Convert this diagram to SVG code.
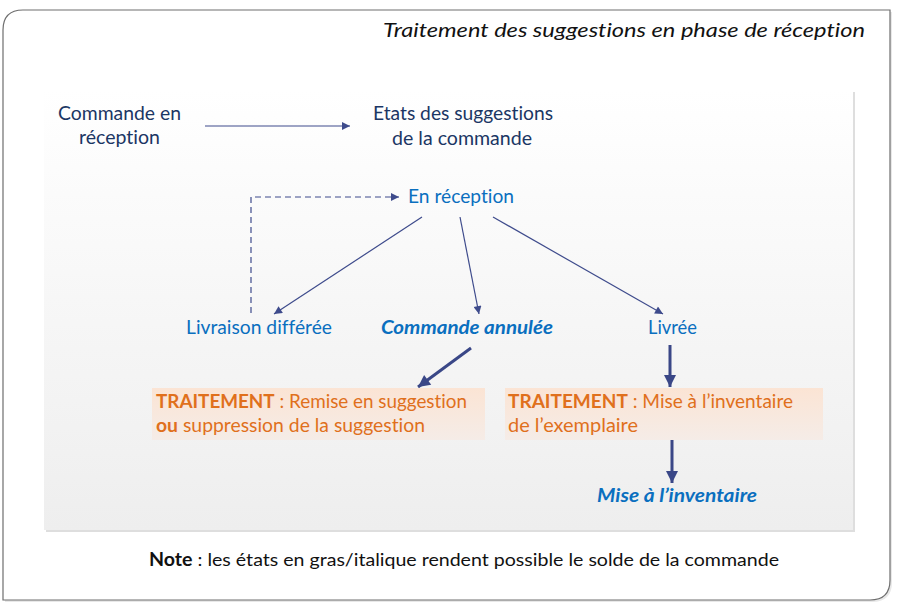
<svg xmlns="http://www.w3.org/2000/svg" width="900" height="608" viewBox="0 0 900 608">
<defs>
<linearGradient id="panelGrad" x1="0" y1="0" x2="0" y2="1">
<stop offset="0" stop-color="#ffffff"/>
<stop offset="1" stop-color="#eeeeee"/>
</linearGradient>
<linearGradient id="orangeGrad" x1="0" y1="0" x2="0" y2="1">
<stop offset="0" stop-color="#fbe4d4"/>
<stop offset="1" stop-color="#f5ece7"/>
</linearGradient>
<marker id="headThin" viewBox="0 0 10 10" refX="10" refY="5" markerWidth="10" markerHeight="8" markerUnits="userSpaceOnUse" orient="auto">
<path d="M0,0 L10,5 L0,10 Z" fill="#3e4b8c"/>
</marker>
<marker id="headThick" viewBox="0 0 10 10" refX="10" refY="5" markerWidth="13" markerHeight="12" markerUnits="userSpaceOnUse" orient="auto">
<path d="M0,0 L10,5 L0,10 Z" fill="#3a4787"/>
</marker>
<style>
text{font-family:Lato,"Liberation Sans",Arial,sans-serif;font-variant-ligatures:none;font-feature-settings:"liga" 0;}
.navy{fill:#1b3664;font-size:18.5px;}
.blue{fill:#0a6fbf;font-size:18.5px;}
.bi{fill:#0a6fbf;font-size:18px;font-weight:bold;font-style:italic;}
.orange{fill:#e0701c;font-size:18.5px;}
.b{font-weight:bold;}
.title{fill:#111111;font-size:20px;font-style:italic;}
.note{fill:#111111;font-size:18px;}
.thin{stroke:#3e4b8c;stroke-width:1.2;fill:none;marker-end:url(#headThin);}
.dash{stroke:#3e4b8c;stroke-width:1.2;fill:none;stroke-dasharray:6,4;marker-end:url(#headThin);}
.thick{stroke:#3a4787;stroke-width:3;fill:none;marker-end:url(#headThick);}
</style>
</defs>

<g id="frame">
<path d="M5,32 Q5,12 25,12 H892 V582 Q892,602 872,602 H5 Z" fill="#d8d8d8" opacity="0.6"/>
<path d="M3,30 Q3,10 23,10 H890 V580 Q890,600 870,600 H3 Z" fill="#ffffff" stroke="#6e6e6e" stroke-width="1.2"/>
<rect x="46" y="92" width="809" height="440" fill="#dedede"/>
<rect x="44" y="90" width="809" height="440" fill="url(#panelGrad)"/>
</g>

<text id="title" class="title" x="383" y="37" textLength="482" lengthAdjust="spacingAndGlyphs">Traitement des suggestions en phase de réception</text>

<g id="connectors">
<line class="thin" x1="205" y1="126" x2="350" y2="126"/>
<path class="dash" d="M251,313 V197 H399"/>
<line class="thin" x1="422" y1="217" x2="274" y2="314"/>
<line class="thin" x1="460" y1="217" x2="479" y2="314"/>
<line class="thin" x1="493" y1="217" x2="663" y2="314"/>
<line class="thick" x1="471" y1="348" x2="418" y2="387"/>
<line class="thick" x1="670" y1="345" x2="670" y2="387"/>
<line class="thick" x1="672" y1="440" x2="672" y2="483"/>
</g>

<g id="node-commande">
<text class="navy" x="58" y="120" textLength="123" lengthAdjust="spacingAndGlyphs">Commande en</text>
<text class="navy" x="79" y="144" textLength="81" lengthAdjust="spacingAndGlyphs">réception</text>
</g>

<g id="node-etats">
<text class="navy" x="373" y="120" textLength="180" lengthAdjust="spacingAndGlyphs">Etats des suggestions</text>
<text class="navy" x="392" y="145" textLength="140" lengthAdjust="spacingAndGlyphs">de la commande</text>
</g>

<g id="node-en-reception">
<text class="blue" x="408" y="203" textLength="106" lengthAdjust="spacingAndGlyphs">En réception</text>
</g>

<g id="node-livraison-differee">
<text class="blue" x="186" y="334" textLength="146" lengthAdjust="spacingAndGlyphs">Livraison différée</text>
</g>

<g id="node-commande-annulee">
<text class="bi" x="381" y="334" textLength="172" lengthAdjust="spacingAndGlyphs">Commande annulée</text>
</g>

<g id="node-livree">
<text class="blue" x="648" y="334" textLength="49" lengthAdjust="spacingAndGlyphs">Livrée</text>
</g>

<g id="node-traitement-1">
<rect x="152" y="388" width="333" height="52" fill="url(#orangeGrad)"/>
<text class="orange" x="156" y="408" textLength="311" lengthAdjust="spacingAndGlyphs"><tspan class="b">TRAITEMENT</tspan> : Remise en suggestion</text>
<text class="orange" x="156" y="432" textLength="269" lengthAdjust="spacingAndGlyphs"><tspan class="b">ou</tspan> suppression de la suggestion</text>
</g>

<g id="node-traitement-2">
<rect x="505" y="388" width="318" height="52" fill="url(#orangeGrad)"/>
<text class="orange" x="508" y="408" textLength="285" lengthAdjust="spacingAndGlyphs"><tspan class="b">TRAITEMENT</tspan> : Mise à l’inventaire</text>
<text class="orange" x="508" y="432" textLength="130" lengthAdjust="spacingAndGlyphs">de l’exemplaire</text>
</g>

<g id="node-mise-inventaire">
<text class="bi" x="597" y="502" textLength="160" lengthAdjust="spacingAndGlyphs">Mise à l’inventaire</text>
</g>

<text id="note" class="note" x="149" y="566" textLength="630" lengthAdjust="spacingAndGlyphs"><tspan font-weight="bold">Note</tspan> : les états en gras/italique rendent possible le solde de la commande</text>
</svg>
